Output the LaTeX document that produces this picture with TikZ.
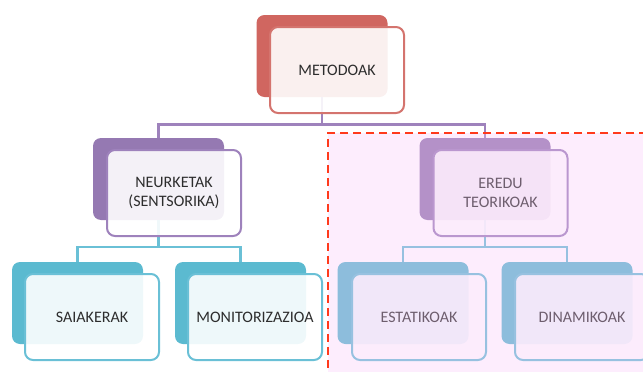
\documentclass[tikz,border=0pt]{standalone}
\usepackage{fontspec}
\setmainfont{Carlito}
\definecolor{redB}{RGB}{208,102,96}
\definecolor{redL}{RGB}{212,116,110}
\definecolor{purB}{RGB}{149,121,178}
\definecolor{purL}{RGB}{158,130,188}
\definecolor{cyaB}{RGB}{91,186,208}
\definecolor{cyaL}{RGB}{106,192,214}
\definecolor{txt}{RGB}{45,45,45}
\definecolor{pinkov}{RGB}{248,198,248}
\definecolor{dashred}{RGB}{255,58,28}
\tikzset{
  backbox/.style={rectangle, rounded corners=8pt, minimum width=131pt, minimum height=82pt, inner sep=0pt, fill=#1},
  frontbox/.style={rectangle, rounded corners=8pt, minimum width=134pt, minimum height=86pt, inner sep=0pt,
     draw=#1, line width=2pt, fill=white, fill opacity=0.9, text opacity=1, text=txt, align=center,
     font=\fontsize{16pt}{19pt}\selectfont},
  conn/.style={draw=#1, line width=2.3pt},
}
\begin{document}
\begin{tikzpicture}[x=1pt,y=-1pt]
\useasboundingbox (0,0) rectangle (643,372);
\clip (0,0) rectangle (643,372);
% back boxes
\node[backbox=redB] (mb) at (322,56) {};
\node[backbox=purB] (nb) at (158.5,179) {};
\node[backbox=purB] (eb) at (485,179) {};
\node[backbox=cyaB] (sb) at (77.5,303) {};
\node[backbox=cyaB] (ob) at (240.5,303) {};
\node[backbox=cyaB] (tb) at (403,303) {};
\node[backbox=cyaB] (db) at (567,303) {};
% connectors
\draw[conn=purL] (mb.south) -- (mb.south |- 0,124.5) -| (nb.north);
\draw[conn=purL] (mb.south |- 0,124.5) -| (eb.north);
\draw[conn=cyaL] (nb.south) -- (nb.south |- 0,247) -| (sb.north);
\draw[conn=cyaL] (nb.south |- 0,247) -| (ob.north);
\draw[conn=cyaL] (eb.south) -- (eb.south |- 0,247) -| (tb.north);
\draw[conn=cyaL] (eb.south |- 0,247) -| (db.north);
% front boxes
\node[frontbox=redL] (mf) at (337,70) {METODOAK};
\node[frontbox=purL] (nf) at (174,193) {NEURKETAK\\(SENTSORIKA)};
\node[frontbox=purL] (ef) at (500.5,193) {EREDU\\TEORIKOAK};
\node[frontbox=cyaL] (sf) at (92,317) {SAIAKERAK};
\node[frontbox=cyaL] (of) at (255,317) {MONITORIZAZIOA};
\node[frontbox=cyaL] (tf) at (419,317) {ESTATIKOAK};
\node[frontbox=cyaL] (df) at (582,317) {DINAMIKOAK};
% highlighted region
\fill[pinkov, fill opacity=0.32] (328,133) rectangle (660,390);
\draw[dashred, line width=2.8pt, dash pattern=on 8pt off 5pt] (660,133) -- (328,133) -- (328,390);
\end{tikzpicture}
\end{document}
